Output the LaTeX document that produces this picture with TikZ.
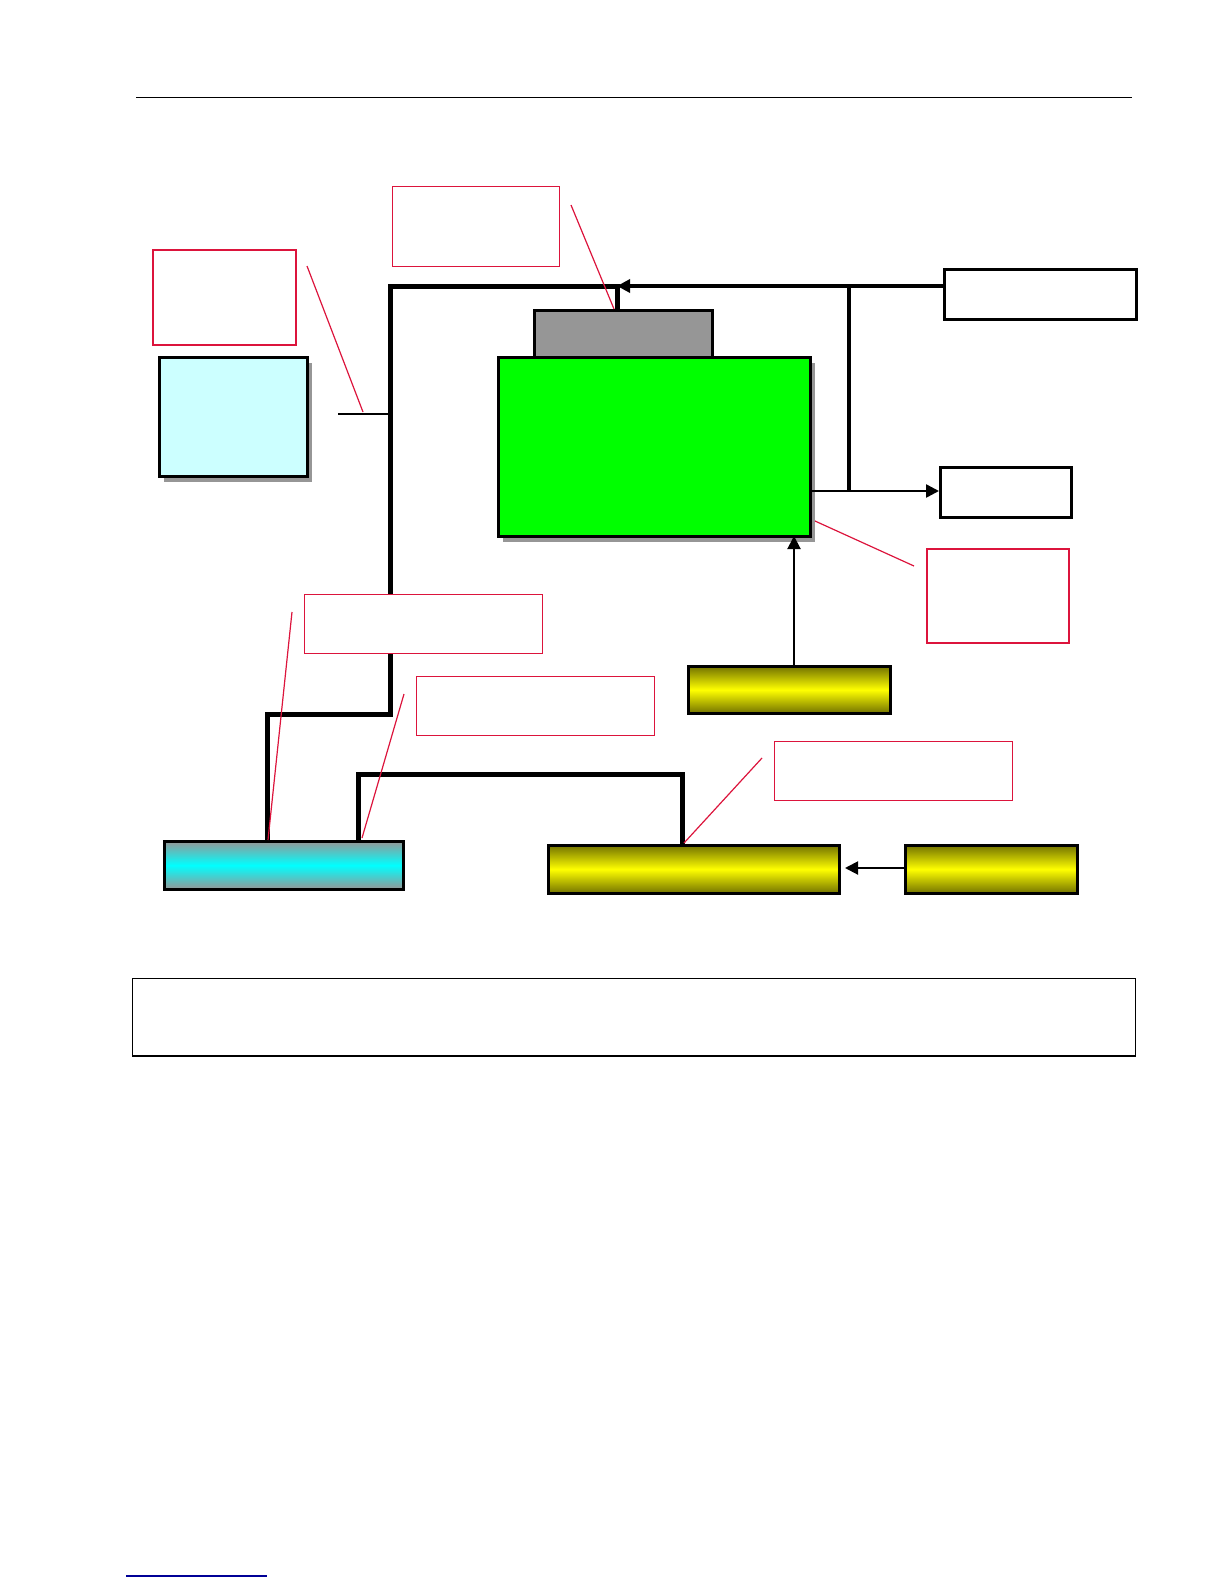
\documentclass[tikz,border=0pt]{standalone}
\usetikzlibrary{arrows.meta,shadows}
\definecolor{callred}{RGB}{220,20,60}
\definecolor{shadowgray}{RGB}{150,150,150}
\definecolor{darkolive}{RGB}{115,115,0}
\definecolor{palecyan}{RGB}{204,255,255}
\definecolor{midgray}{RGB}{150,150,150}
\definecolor{linkblue}{RGB}{0,0,150}
\begin{document}
\begin{tikzpicture}[x=1pt,y=-1pt,
  box/.style={draw=black,line width=2.5pt,rectangle,inner sep=0pt,anchor=north west},
  callout/.style={draw=callred,line width=1.1pt,fill=white,rectangle,inner sep=0pt,anchor=north west},
  calloutthick/.style={callout,line width=1.8pt},
  leader/.style={draw=callred,line width=1.2pt},
  bus/.style={line width=5pt,line join=miter},
  feed/.style={line width=3.5pt},
  tip/.style={-{Triangle[length=13pt,width=13pt]}},
  boxshadow/.style={drop shadow={shadow xshift=5pt,shadow yshift=-6pt,fill=shadowgray,opacity=1}},
  yellowbar/.style={box,top color=darkolive,bottom color=darkolive,middle color=yellow},
  cyanbar/.style={box,top color=midgray,bottom color=midgray,middle color=cyan}]
\useasboundingbox (0,0) rectangle (1224,1584);
\draw[line width=0.8pt] (136,97) -- (1132,97);

% main blocks
\node[box,fill=palecyan,boxshadow,minimum width=148pt,minimum height=119pt] (pc) at (158,356) {};
\node[box,fill=midgray,minimum width=178pt,minimum height=47pt] (top) at (533,309) {};
\node[box,fill=green,boxshadow,minimum width=312pt,minimum height=179pt] (main) at (497,356) {};
\node[box,fill=white,minimum width=192pt,minimum height=50pt] (inbox) at (943,268) {};
\node[box,fill=white,minimum width=131pt,minimum height=50pt] (outbox) at (939,466) {};
\node[yellowbar,minimum width=202pt,minimum height=47pt] (ymid) at (687,665) {};
\node[cyanbar,minimum width=239pt,minimum height=48pt] (cbar) at (163,840) {};
\node[yellowbar,minimum width=291pt,minimum height=48pt] (ybot) at (547,844) {};
\node[yellowbar,minimum width=172pt,minimum height=48pt] (yright) at (904,844) {};

% buses
\coordinate (j1) at (267,714);
\coordinate (j2) at (390,714);
\coordinate (j3) at (390,286);
\coordinate (j4) at (617,286);
\coordinate (tapin) at (617,309);
\coordinate (tap) at (390,414);
\coordinate (tapend) at (338,414);
\draw[bus] (267,840) -- (j1) -- (j2) -- (j3) -- (j4) -- (tapin);
\draw[line width=1.2pt] (tapend) -- (tap);
\draw[bus] (358,840) -- (358,774) -- (682,774) -- (682,844);

\draw[feed,tip] (inbox.west |- j4) -- (j4);
\coordinate (v1) at (849,286);
\coordinate (v2) at (849,491);
\draw[feed] (v1) -- (v2);
\draw[line width=2.5pt,tip] (809,491) -- (outbox.west |- v2);
\draw[line width=2pt,tip] (794,665) -- (794,536);
\coordinate (lt) at (845,868);
\draw[line width=2pt,tip] (yright.west |- lt) -- (lt);

% callouts
\node[callout,minimum width=167pt,minimum height=80pt] (cA) at (392,186) {};
\node[calloutthick,minimum width=143pt,minimum height=95pt] (cB) at (152,249) {};
\node[callout,minimum width=238pt,minimum height=59pt] (cC) at (304,594) {};
\node[callout,minimum width=238pt,minimum height=59pt] (cD) at (416,676) {};
\node[callout,minimum width=238pt,minimum height=59pt] (cE) at (774,741) {};
\node[calloutthick,minimum width=142pt,minimum height=94pt] (cF) at (926,548) {};

\draw[leader] (571,205) -- (614,309);
\draw[leader] (307,266) -- (363,412);
\draw[leader] (292,612) -- (268,840);
\draw[leader] (404,694) -- (362,838);
\draw[leader] (762,758) -- (684,843);
\draw[leader] (914,566) -- (815,521);

% bottom panel
\node[draw=black,line width=1pt,rectangle,inner sep=0pt,anchor=north west,minimum width=1003pt,minimum height=77pt] (panel) at (132,978) {};
\draw[line width=2.5pt] (panel.south west) -- (panel.south east);

\draw[linkblue,line width=1.5pt] (126,1576) -- (267,1576);
\end{tikzpicture}
\end{document}
